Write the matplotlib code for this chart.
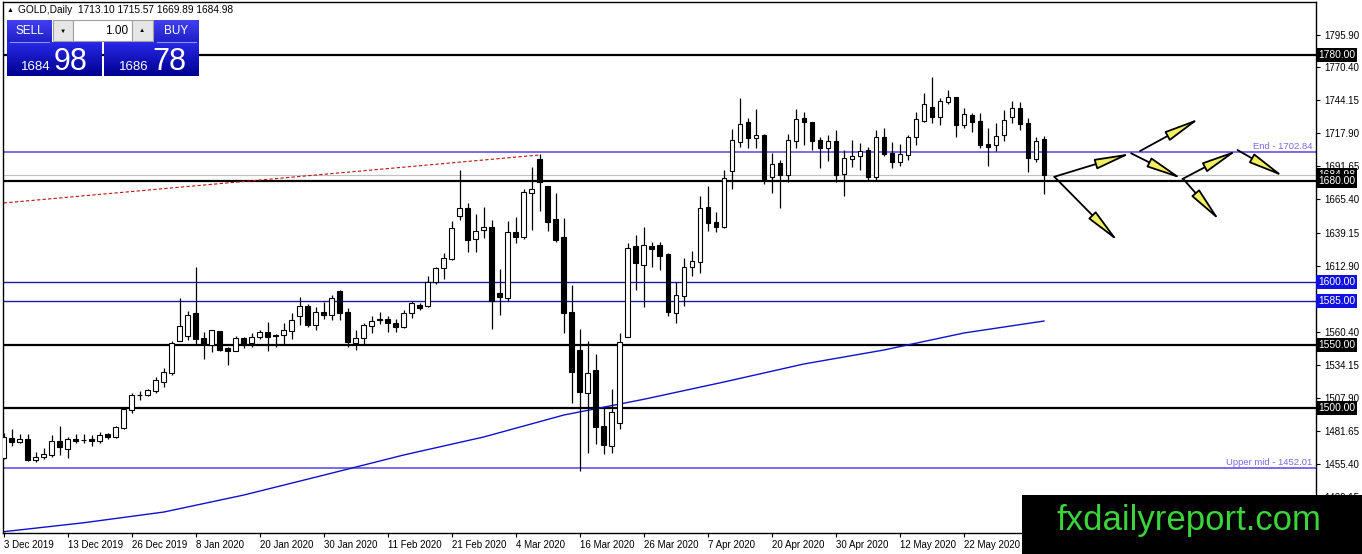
import matplotlib
matplotlib.use("Agg")
import matplotlib.pyplot as plt
import matplotlib.transforms as mtrans
from matplotlib.patches import Rectangle, FancyArrowPatch
from matplotlib.colors import LinearSegmentedColormap
import numpy as np

plt.rcParams['font.family'] = ['Liberation Sans', 'DejaVu Sans']

# daily GOLD candles, 3 Dec 2019 .. 5 Jun 2020
opens = [1460.3, 1476.3, 1473.0, 1475.0, 1458.3, 1460.6, 1462.5, 1473.4, 1467.5, 1475.3,
         1474.4, 1475.0, 1473.9, 1478.9, 1477.1, 1484.2, 1498.2, 1510.1, 1509.9, 1513.6,
         1520.7, 1527.3, 1553.3, 1557.0, 1575.0, 1555.1, 1550.1, 1560.9, 1547.5, 1545.4,
         1555.1, 1551.1, 1556.4, 1560.1, 1557.5, 1557.5, 1561.2, 1573.1, 1581.0, 1565.7,
         1576.0, 1573.4, 1592.7, 1576.3, 1551.7, 1555.1, 1565.1, 1570.9, 1570.9, 1567.3,
         1564.4, 1575.0, 1581.6, 1581.0, 1599.6, 1610.7, 1618.3, 1652.5, 1658.3, 1633.7,
         1641.2, 1643.2, 1590.8, 1587.1, 1639.2, 1635.9, 1670.8, 1697.5, 1676.1, 1649.9,
         1635.9, 1576.3, 1545.9, 1511.5, 1530.0, 1485.6, 1469.7, 1487.7, 1556.5, 1628.5,
         1613.3, 1628.4, 1629.2, 1622.1, 1574.9, 1589.0, 1612.0, 1616.0, 1659.1, 1647.2,
         1643.7, 1687.9, 1711.2, 1727.1, 1714.4, 1716.5, 1683.4, 1694.0, 1684.8, 1712.0,
         1729.7, 1727.1, 1712.5, 1706.4, 1711.8, 1685.3, 1697.2, 1699.9, 1704.6, 1683.5,
         1714.7, 1702.0, 1695.4, 1700.7, 1714.7, 1727.6, 1738.5, 1731.1, 1743.0, 1746.4,
         1724.5, 1732.4, 1727.6, 1709.4, 1708.6, 1716.5, 1730.6, 1737.7, 1725.8, 1697.5,
         1713.10]
highs = [1480.2, 1482.9, 1479.2, 1479.2, 1464.9, 1467.8, 1478.1, 1485.8, 1476.5, 1479.2,
         1479.2, 1478.4, 1480.5, 1480.0, 1485.5, 1499.8, 1511.5, 1513.3, 1514.6, 1524.7,
         1531.3, 1553.0, 1587.4, 1576.8, 1611.5, 1560.4, 1561.7, 1560.9, 1548.0, 1557.0,
         1556.4, 1559.6, 1561.5, 1568.1, 1558.3, 1567.0, 1575.0, 1588.2, 1582.1, 1580.3,
         1584.2, 1589.8, 1593.5, 1579.0, 1561.7, 1567.5, 1573.1, 1575.7, 1573.1, 1570.9,
         1577.6, 1585.0, 1582.9, 1604.6, 1612.0, 1623.1, 1648.5, 1688.7, 1662.3, 1653.8,
         1659.6, 1649.0, 1610.1, 1648.2, 1651.7, 1673.4, 1691.4, 1701.5, 1676.1, 1670.3,
         1650.4, 1597.5, 1562.3, 1553.0, 1542.7, 1499.6, 1514.7, 1559.7, 1630.6, 1637.2,
         1643.3, 1631.8, 1631.3, 1622.6, 1599.6, 1618.6, 1624.4, 1668.1, 1676.0, 1655.7,
         1688.7, 1721.0, 1745.6, 1730.3, 1737.1, 1717.0, 1702.0, 1696.7, 1717.0, 1737.1,
         1734.5, 1727.1, 1715.2, 1716.5, 1720.5, 1704.6, 1712.6, 1709.9, 1707.3, 1720.5,
         1722.4, 1710.7, 1709.1, 1716.5, 1735.1, 1749.6, 1762.8, 1746.2, 1752.3, 1747.0,
         1738.2, 1734.3, 1733.7, 1721.8, 1725.8, 1736.4, 1743.5, 1743.0, 1730.3, 1714.7,
         1715.57]
lows = [1459.0, 1469.9, 1471.8, 1457.5, 1457.2, 1459.3, 1460.7, 1462.8, 1460.4, 1471.8,
        1472.3, 1469.7, 1472.3, 1475.2, 1476.3, 1483.1, 1496.1, 1506.2, 1509.3, 1511.5,
        1516.8, 1526.0, 1553.3, 1553.8, 1549.8, 1538.4, 1544.5, 1545.4, 1534.0, 1544.8,
        1547.2, 1548.0, 1554.8, 1545.3, 1548.5, 1549.8, 1554.3, 1565.7, 1564.4, 1561.7,
        1570.7, 1569.7, 1569.7, 1548.0, 1545.8, 1550.6, 1559.6, 1566.5, 1560.1, 1560.1,
        1563.1, 1571.5, 1577.6, 1580.2, 1598.2, 1602.5, 1617.3, 1649.0, 1623.9, 1623.9,
        1634.5, 1562.3, 1573.9, 1585.0, 1630.5, 1633.8, 1641.2, 1656.5, 1640.6, 1631.9,
        1559.7, 1503.6, 1449.8, 1463.9, 1471.3, 1463.1, 1464.4, 1483.0, 1556.5, 1593.5,
        1580.3, 1612.0, 1609.4, 1573.0, 1567.0, 1581.0, 1604.9, 1606.7, 1640.6, 1639.8,
        1642.4, 1673.6, 1707.2, 1706.4, 1705.9, 1677.4, 1670.2, 1658.8, 1679.5, 1705.9,
        1708.6, 1704.6, 1690.6, 1695.9, 1679.5, 1668.4, 1691.4, 1688.7, 1680.0, 1680.8,
        1700.1, 1690.1, 1691.9, 1696.7, 1708.6, 1726.6, 1725.8, 1724.5, 1740.9, 1715.2,
        1722.4, 1719.2, 1706.5, 1691.9, 1703.8, 1711.8, 1725.8, 1720.5, 1687.4, 1694.8,
        1669.89]
closes = [1477.1, 1473.1, 1475.2, 1458.5, 1461.0, 1463.6, 1473.4, 1468.6, 1475.0, 1473.9,
          1474.6, 1473.9, 1478.6, 1476.5, 1485.0, 1499.3, 1510.1, 1510.3, 1514.1, 1522.0,
          1528.4, 1551.1, 1564.9, 1573.6, 1554.6, 1550.6, 1561.7, 1545.9, 1545.4, 1555.1,
          1550.6, 1555.9, 1559.9, 1556.4, 1557.3, 1561.5, 1569.9, 1580.8, 1565.7, 1576.3,
          1573.4, 1587.4, 1575.5, 1552.5, 1555.1, 1565.7, 1569.1, 1569.6, 1567.0, 1564.4,
          1575.0, 1582.9, 1579.4, 1600.1, 1610.7, 1618.6, 1642.4, 1658.3, 1633.2, 1640.3,
          1643.8, 1585.0, 1588.2, 1639.2, 1635.8, 1671.6, 1673.4, 1679.5, 1647.8, 1633.2,
          1575.5, 1528.2, 1512.8, 1527.4, 1485.0, 1470.5, 1496.9, 1552.5, 1626.6, 1615.2,
          1629.3, 1625.8, 1620.7, 1575.7, 1589.5, 1612.0, 1616.5, 1658.3, 1646.4, 1643.7,
          1682.1, 1712.5, 1725.0, 1714.4, 1716.5, 1681.6, 1693.2, 1684.8, 1712.5, 1729.2,
          1726.6, 1711.7, 1706.4, 1711.7, 1684.8, 1698.5, 1699.9, 1704.1, 1683.5, 1714.7,
          1701.2, 1695.4, 1701.2, 1714.7, 1729.2, 1740.9, 1731.1, 1743.5, 1746.4, 1724.5,
          1732.9, 1727.1, 1708.6, 1707.3, 1716.0, 1728.4, 1737.7, 1725.3, 1698.0, 1712.0,
          1684.98]

date_labels = ['3 Dec 2019', '13 Dec 2019', '26 Dec 2019', '8 Jan 2020', '20 Jan 2020',
               '30 Jan 2020', '11 Feb 2020', '21 Feb 2020', '4 Mar 2020', '16 Mar 2020',
               '26 Mar 2020', '7 Apr 2020', '20 Apr 2020', '30 Apr 2020', '12 May 2020',
               '22 May 2020']
date_bars = [0, 8, 16, 24, 32, 40, 48, 56, 64, 72, 80, 88, 96, 104, 112, 120]

# 1586.65 sits under the 1585 label box, so it is left out
price_ticks = [1795.90, 1770.40, 1744.15, 1717.90, 1691.65, 1665.40, 1639.15, 1612.90,
               1560.40, 1534.15, 1507.90, 1481.65, 1455.40, 1429.15]

# moving average, sampled every 10 bars
ma_bars = [0, 10, 20, 30, 40, 50, 60, 70, 80, 90, 100, 110, 120, 130]
ma_vals = [1401.7, 1408.8, 1417.3, 1430.8, 1446.6, 1462.6, 1476.9, 1494.3, 1506.8,
           1520.5, 1534.8, 1545.9, 1559.4, 1568.9]

black_levels = [1780.0, 1680.0, 1550.0, 1500.0]
blue_levels = [1600.0, 1585.0]
fibo_levels = [1702.84, 1452.01]
fibo_names = ['End', 'Upper mid']
bid = 1684.98
trend_bars = [0, 67]
trend_vals = [1662.6, 1700.7]

# arrow drawing (bar index, price)
arrows = [((131.3, 1683.4), (140.9, 1702.0)),
          ((142.0, 1703.8), (149.5, 1729.8)),
          ((131.3, 1683.4), (139.3, 1631.9)),
          ((140.9, 1702.0), (147.3, 1681.6)),
          ((147.3, 1681.6), (154.2, 1704.6)),
          ((147.5, 1681.0), (152.0, 1648.3)),
          ((154.2, 1704.6), (160.0, 1683.4))]

W, H = 1362, 554
fig = plt.figure(figsize=(W / 100, H / 100), dpi=100)
ax = fig.add_axes([3 / W, 21 / H, 1313 / W, 531 / H])
ax.set_xlim(-0.1, 164.0)
ax.set_ylim(1400.66, 1822.1)

o = np.array(opens)
c = np.array(closes)
x = np.arange(len(o))
up = c >= o

# horizontal levels
for lv in black_levels:
    ax.axhline(lv, color='black', lw=1.6, zorder=1)
for lv in blue_levels:
    ax.axhline(lv, color='#1a1aa6', lw=1.0, zorder=1)
for lv in fibo_levels:
    ax.axhline(lv, color='#7b68ee', lw=1.4, zorder=1)
ax.axhline(bid, color='#c0c0c0', lw=0.8, zorder=1)
ax.plot(trend_bars, trend_vals, color='#c01010', lw=0.8, ls=(0, (3, 2)), zorder=1)

ax.plot(ma_bars, ma_vals, color='#1010d0', lw=1.0, zorder=1.5)

# candles
ax.vlines(x, lows, highs, color='black', lw=0.9, zorder=2)
ax.bar(x[up], (c - o)[up], bottom=o[up], width=0.6, color='white',
       edgecolor='black', linewidth=0.8, zorder=3)
ax.bar(x[~up], (c - o)[~up], bottom=o[~up], width=0.6, color='black',
       edgecolor='black', linewidth=0.8, zorder=3)

for (p0, p1) in arrows:
    ax.add_patch(FancyArrowPatch(p0, p1, arrowstyle='-|>,head_length=2.2,head_width=0.32',
                                 mutation_scale=10, fc='#f0f060', ec='black', lw=1.3,
                                 shrinkA=0, shrinkB=0, zorder=4))

# axes styling
for s in ax.spines.values():
    s.set_color('black')
    s.set_linewidth(1)
ax.yaxis.tick_right()
ax.set_yticks(price_ticks, ['%.2f' % v for v in price_ticks])
ax.tick_params(axis='y', direction='out', length=3, width=0.8, pad=3, labelsize=7)
ax.set_xticks(date_bars, date_labels)
ax.tick_params(axis='x', direction='out', length=3, width=0.8, pad=2, labelsize=7)
for lab in ax.get_xticklabels():
    lab.set_ha('left')

# right-hand level labels
tr = mtrans.blended_transform_factory(ax.transAxes, ax.transData)
def level_box(val, fc):
    ax.text(1.0016, val, '%.2f' % val, transform=tr, ha='left', va='center',
            color='white', fontsize=7.4, zorder=6, clip_on=False,
            bbox=dict(boxstyle='square,pad=0.18', fc=fc, ec='none'))
level_box(bid, 'black')
for lv in black_levels:
    level_box(lv, 'black')
for lv in blue_levels:
    level_box(lv, '#1010e0')
for lv, nm in zip(fibo_levels, fibo_names):
    ax.text(0.9975, lv + 1.2, '%s - %.2f' % (nm, lv), transform=tr, ha='right',
            va='bottom', color='#7b68ee', fontsize=6.8, zorder=5)

# overlay in pixel coordinates: header, trade panel, watermark
ov = fig.add_axes([0, 0, 1, 1], zorder=5)
ov.patch.set_visible(False)
ov.axis('off')

ov.text(7, 10, '\u25b2', fontsize=5, va='center', ha='left')
ov.text(18, 10, 'GOLD,Daily  1713.10 1715.57 1669.89 1684.98', fontsize=7.3,
        va='center', ha='left')

grad = np.linspace(0, 1, 32).reshape(-1, 1)
cm_top = LinearSegmentedColormap.from_list('t', ['#4040f0', '#2020c8'])
cm_low = LinearSegmentedColormap.from_list('l', ['#2828e8', '#000090'])
for x0, x1 in [(7, 52), (154, 199)]:
    ov.imshow(grad, cmap=cm_top, extent=(x0, x1, 42, 20), aspect='auto', zorder=1)
    ov.plot([x0 + 3, x1 - 3], [41.5, 41.5], color='#9090ff', lw=0.8, zorder=2)
for x0, x1 in [(7, 102), (104, 199)]:
    ov.imshow(grad, cmap=cm_low, extent=(x0, x1, 76, 42), aspect='auto', zorder=1)
ov.add_patch(Rectangle((53, 20), 20, 21, fc='#e6e6e6', ec='#a0a0a0', lw=0.8))
ov.add_patch(Rectangle((73, 20), 59, 21, fc='white', ec='#a0a0a0', lw=0.8))
ov.add_patch(Rectangle((132, 20), 21, 21, fc='#e6e6e6', ec='#a0a0a0', lw=0.8))
ov.text(63, 31, '\u25bc', fontsize=4.5, ha='center', va='center')
ov.text(142, 31, '\u25b2', fontsize=4.5, ha='center', va='center')
ov.text(128, 30.5, '1.00', fontsize=8.5, ha='right', va='center')
ov.text(29.5, 30.5, 'SELL', fontsize=8.5, color='white', ha='center', va='center')
ov.text(176.5, 30.5, 'BUY', fontsize=8.5, color='white', ha='center', va='center')
ov.text(36, 67, '1684', fontsize=9.5, color='white', ha='center', va='center')
ov.text(71, 70, '98', fontsize=22, color='white', ha='center', va='baseline')
ov.text(134, 67, '1686', fontsize=9.5, color='white', ha='center', va='center')
ov.text(169, 70, '78', fontsize=22, color='white', ha='center', va='baseline')

ov.add_patch(Rectangle((1022, 495), 340, 59, fc='black', ec='none', zorder=3))
ov.text(1189, 530, 'fxdailyreport.com', fontsize=25, color='#3cd43c',
        ha='center', va='baseline', zorder=4)

ov.set_xlim(0, W)
ov.set_ylim(H, 0)

fig.savefig('out.png', dpi=100)
